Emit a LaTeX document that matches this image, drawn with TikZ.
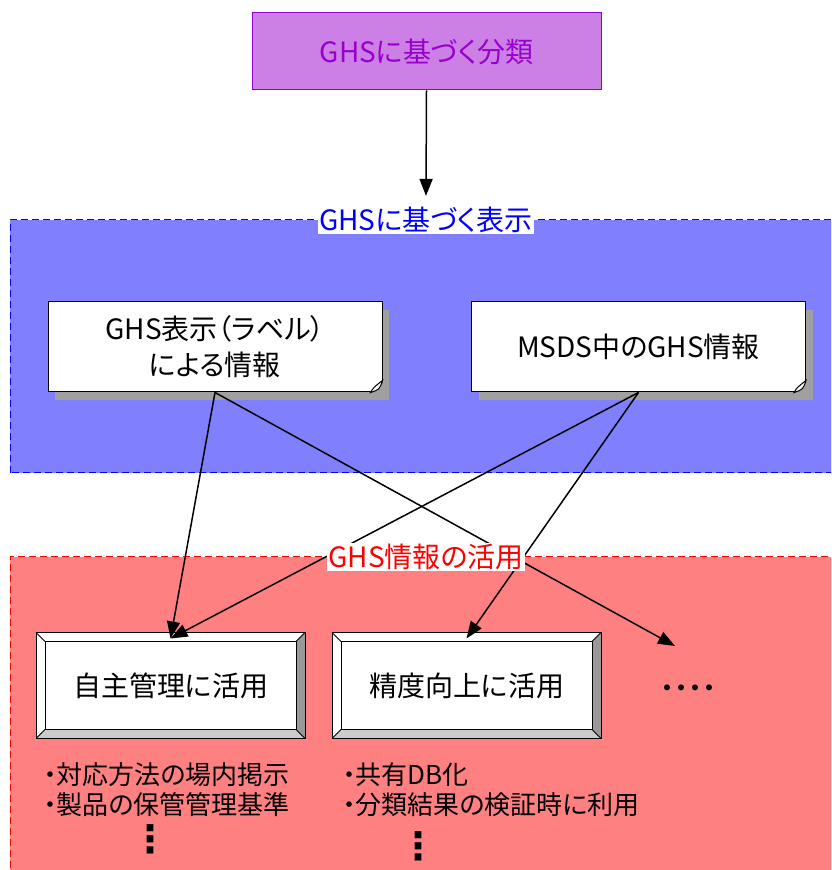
\documentclass[tikz,border=0pt]{standalone}
\usepackage{fontspec}
\setmainfont{Noto Sans CJK JP}[RawFeature=+palt]
\newfontfamily\symfont{DejaVu Sans}
\usetikzlibrary{arrows.meta,shadows}

\definecolor{clsfill}{RGB}{204,128,230}
\definecolor{clsline}{RGB}{153,0,204}
\definecolor{dispfill}{RGB}{128,128,255}
\definecolor{usefill}{RGB}{255,128,128}
\definecolor{shadegray}{RGB}{160,160,160}

\tikzset{
  bigtext/.style={font=\fontsize{28}{36}\selectfont},
  smalltext/.style={font=\fontsize{26}{30}\selectfont},
  vdots/.style={font=\symfont\bfseries\fontsize{38}{38}\selectfont,inner sep=0pt},
  region/.style={line width=1pt,dash pattern=on 7pt off 4pt},
  infobox/.style={draw,fill=white,line width=1pt,minimum width=334pt,minimum height=90pt,
    align=center,bigtext,
    drop shadow={shadow xshift=7pt,shadow yshift=-8pt,fill=shadegray,opacity=1}},
  bevelbox/.style={draw,fill=white,line width=1pt,minimum width=268pt,minimum height=105pt,bigtext},
  tag/.style={fill=white,inner sep=1pt,bigtext},
  link/.style={line width=1.5pt,-{Triangle[length=17pt,width=13pt]}}
}

\begin{document}
\begin{tikzpicture}[x=1pt,y=1pt]
  \path[use as bounding box,clip] (0,0) rectangle (831,870);
  % regions
  \draw[region,draw=blue,fill=dispfill] (10,397) rectangle (845,650);
  \draw[region,draw=red,fill=usefill] (10,-20) rectangle (845,313);

  % classification
  \node[draw=clsline,fill=clsfill,line width=1pt,minimum width=349pt,minimum height=77pt,
        text=clsline,bigtext] (cls) at (426.5,818.5) {GHSに基づく分類};
  \node[tag,text=blue] (disp) at (426,650) {GHSに基づく表示};
  \draw[link] (cls.south) -- ([yshift=10pt]disp.north);

  % information
  \node[infobox] (label) at (215,523) {GHS表示（ラベル）\\による情報};
  \node[infobox] (msds) at (638.5,523) {MSDS中のGHS情報};
  \foreach \b in {label,msds} {
    \fill[shadegray] ([xshift=-12pt]\b.south east) -- ([shift={(1pt,-1pt)}]\b.south east)
      -- ([yshift=12pt]\b.south east) -- cycle;
    \draw[line width=1pt,fill=white] ([xshift=-12pt]\b.south east)
      .. controls ([shift={(-3pt,3pt)}]\b.south east) .. ([yshift=12pt]\b.south east)
      .. controls ([shift={(-9pt,5pt)}]\b.south east) .. cycle;
  }

  % usage
  \node[bevelbox] (self) at (170.5,184.5) {自主管理に活用};
  \node[bevelbox] (prec) at (466.5,184.5) {精度向上に活用};
  \foreach \b in {self,prec} {
    \fill[gray!80] (\b.north east) -- (\b.south east) -- ([shift={(-9pt,9pt)}]\b.south east)
      -- ([shift={(-9pt,-9pt)}]\b.north east) -- cycle;
    \fill[gray!40] (\b.south west) -- (\b.south east) -- ([shift={(-9pt,9pt)}]\b.south east)
      -- ([shift={(9pt,9pt)}]\b.south west) -- cycle;
    \draw[line width=1pt] ([shift={(9pt,9pt)}]\b.south west) rectangle ([shift={(-9pt,-9pt)}]\b.north east);
    \draw[line width=1pt] (\b.north west) -- ++(9pt,-9pt) (\b.north east) -- ++(-9pt,-9pt)
      (\b.south west) -- ++(9pt,9pt) (\b.south east) -- ++(-9pt,9pt);
    \draw[line width=1pt] (\b.south west) rectangle (\b.north east);
  }
  \node[bigtext] (more) at (688,178) {・・・・};
  \coordinate (etc) at (675,224);

  \node[smalltext,anchor=west,align=left] (selflist) at (40,80) {・対応方法の場内掲示\\・製品の保管管理基準};
  \node[smalltext,align=left,anchor=west] (preclist) at (339,80) {・共有DB化\\・分類結果の検証時に利用};
  \node[vdots] (selfdots) at (150,31) {⋮};
  \node[vdots] (precdots) at (418,24) {⋮};

  % links
  \draw[link] (label.south) -- ([yshift=-6pt]self.north);
  \draw[link] (label.south) -- (etc);
  \draw[link] (msds.south) -- ([yshift=-6pt]self.north);
  \draw[link] (msds.south) -- ([yshift=-6pt]prec.north);
  \node[tag,text=red] (use) at (426,313) {GHS情報の活用};
\end{tikzpicture}
\end{document}
